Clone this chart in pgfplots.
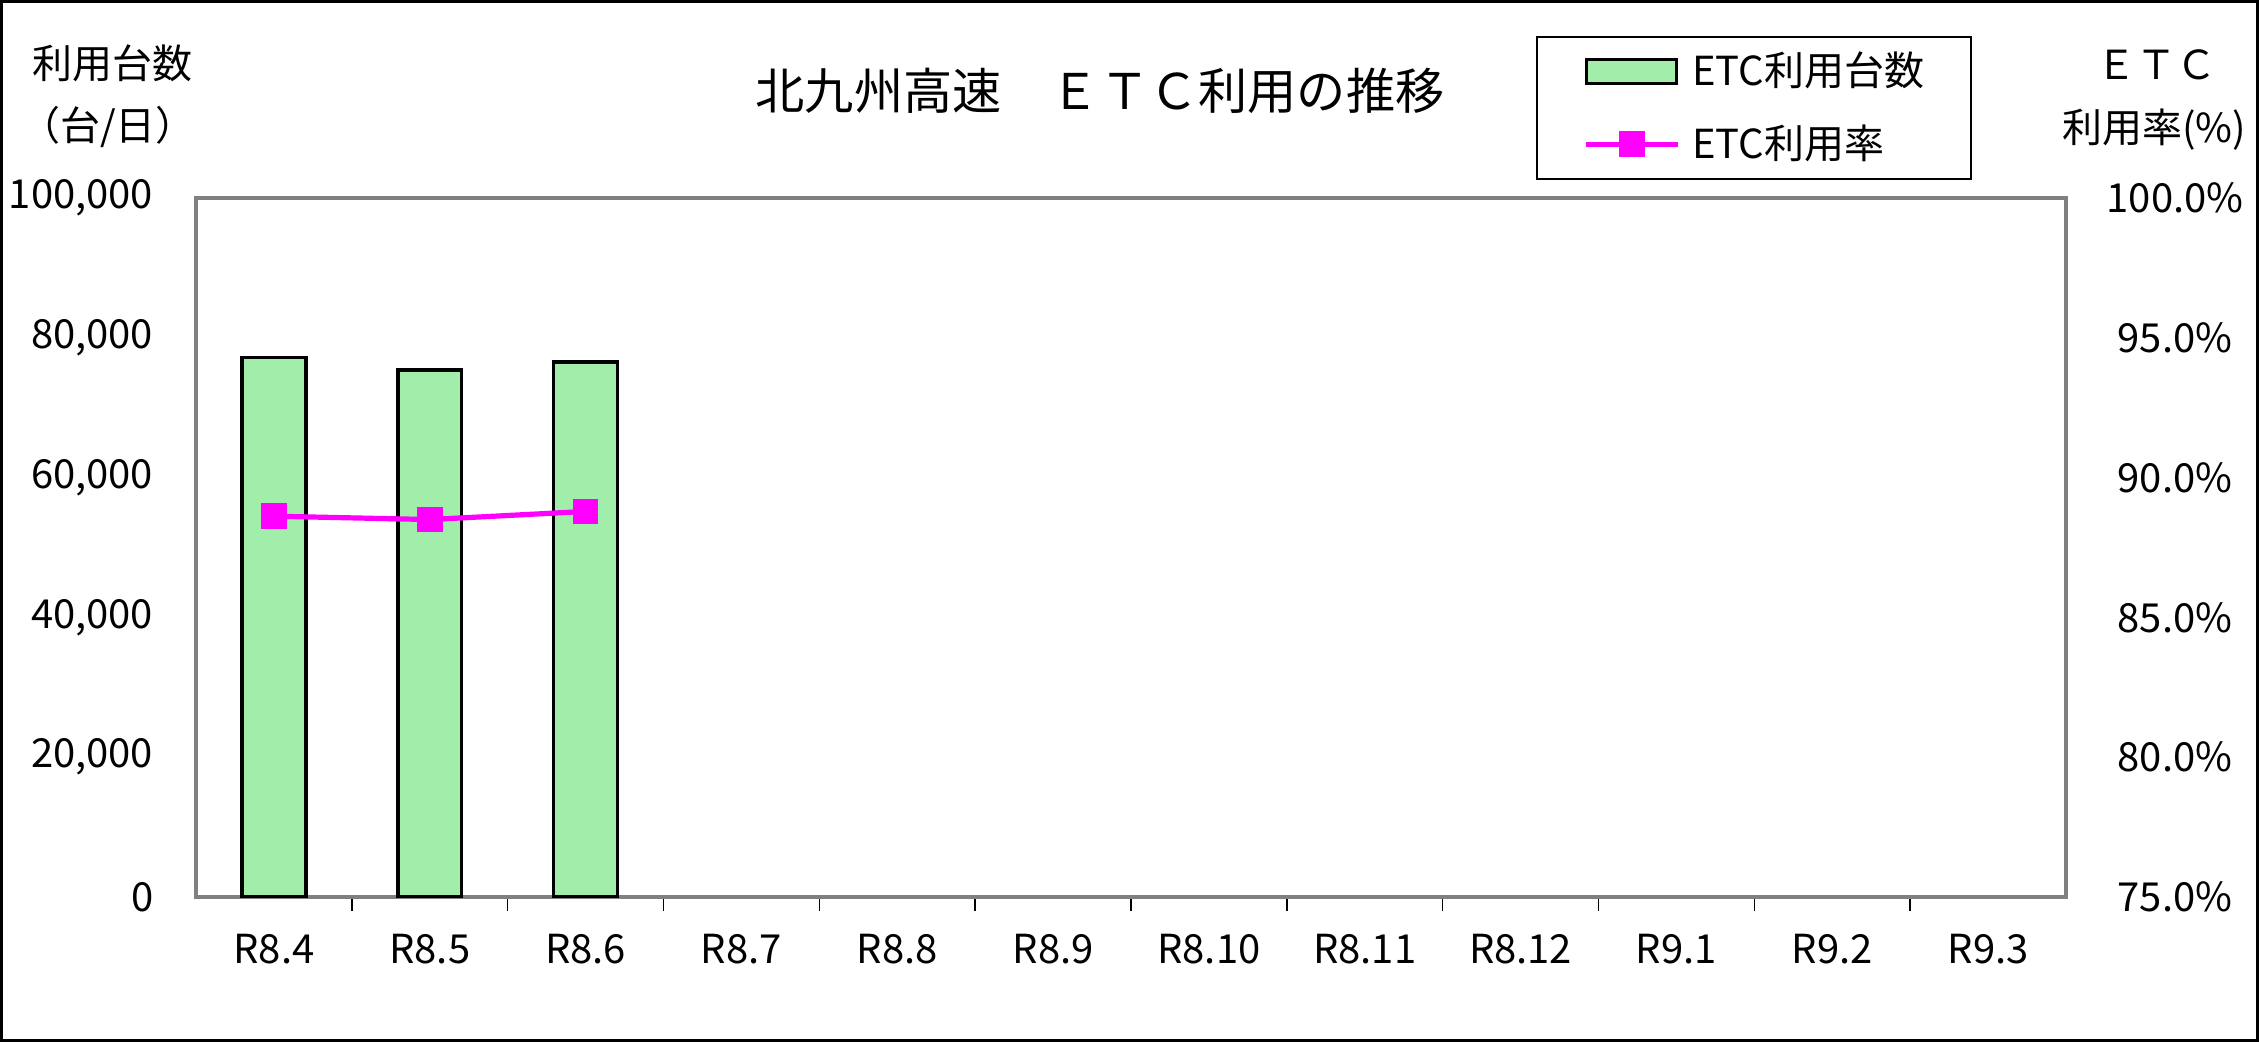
\documentclass[border=0pt]{standalone}
\usepackage{fontspec}
\setmainfont{Noto Sans CJK JP}
\usepackage{pgfplots}
\pgfplotsset{compat=1.18}
\definecolor{barfill}{RGB}{160,238,170}
\definecolor{framegray}{RGB}{128,128,128}
\definecolor{linemag}{RGB}{255,0,255}
\pgfplotsset{
  barlegend/.style={legend image code/.code={\draw[##1] (0pt,-3pt) rectangle (22.5pt,3pt);}},
  linelegend/.style={legend image code/.code={\draw[##1] (0pt,0pt) -- (22.8pt,0pt);
     \draw[##1, only marks] plot coordinates {(11.4pt,0pt)};}},
}
\begin{document}
\fontsize{10pt}{12pt}\selectfont
\begin{tikzpicture}
\useasboundingbox (0,0) rectangle (564.75pt,260.5pt);
\draw[black, line width=0.6pt] (0.4pt,0.4pt) rectangle (564.35pt,260.1pt);
\begin{axis}[
  at={(49pt,36.25pt)}, anchor=south west,
  scale only axis, width=467.5pt, height=174.75pt,
  xmin=-0.5, xmax=11.5, ymin=0, ymax=100000,
  scaled y ticks=false,
  ybar, bar width=0.41,
  axis line style={framegray, line width=0.9pt},
  xtick={0,...,11},
  xticklabels={R8.4,R8.5,R8.6,R8.7,R8.8,R8.9,R8.10,R8.11,R8.12,R9.1,R9.2,R9.3},
  minor xtick={0.5,1.5,2.5,3.5,4.5,5.5,6.5,7.5,8.5,9.5,10.5},
  major tick length=0pt, minor tick length=3.5pt,
  xtick pos=left, ytick pos=left,
  tick style={black, line width=0.4pt},
  xticklabel style={anchor=base, inner sep=0pt, yshift=-16.5pt},
  ytick={0,20000,40000,60000,80000,100000},
  yticklabels={0,{20,000},{40,000},{60,000},{80,000},{100,000}},
  yticklabel style={anchor=east, inner sep=0pt, xshift=-10.5pt},
  legend cell align=left,
  legend style={at={(0.7166,1.2318)}, anchor=north west, draw=black, fill=white,
    inner xsep=11.75pt, inner ysep=3.75pt, row sep=8.25pt, column sep=3pt,
    nodes={inner sep=0pt}, font=\fontsize{10pt}{12pt}\selectfont, cells={anchor=west}},
]
\addplot[ybar, fill=barfill, draw=black, line width=0.85pt, barlegend]
  coordinates {(0,77210) (1,75390) (2,76540)};
\addlegendentry{ETC利用台数}
\addlegendimage{linemag, line width=1.3pt, mark=square*, mark size=3.1pt,
  mark options={solid, fill=linemag, draw=linemag, line width=0pt}, linelegend}
\addlegendentry{ETC利用率}
\end{axis}
\begin{axis}[
  at={(49pt,36.25pt)}, anchor=south west,
  scale only axis, width=467.5pt, height=174.75pt,
  xmin=-0.5, xmax=11.5, ymin=75, ymax=100,
  axis x line=none, axis y line*=right, y axis line style={draw=none},
  ytick={75,80,85,90,95,100},
  yticklabels={75.0\%,80.0\%,85.0\%,90.0\%,95.0\%,100.0\%},
  major tick length=0pt,
  yticklabel style={anchor=center, inner sep=0pt, xshift=27.25pt},
]
\addplot[linemag, line width=1.3pt, mark=square*, mark size=3.1pt,
  mark options={fill=linemag, draw=linemag, line width=0pt}]
  coordinates {(0,88.62) (1,88.50) (2,88.79)};
\end{axis}
\node[font=\fontsize{12.3pt}{14pt}\selectfont, inner sep=0pt] at (275pt,237.75pt) {北九州高速　ＥＴＣ利用の推移};
\node[inner sep=0pt] at (28.1pt,244.75pt) {利用台数};
\node[inner sep=0pt] at (27pt,228.75pt) {（台/日）};
\node[inner sep=0pt] at (539.2pt,244.25pt) {ＥＴＣ};
\node[inner sep=0pt] at (538.5pt,228pt) {利用率(\%)};
\end{tikzpicture}
\end{document}
